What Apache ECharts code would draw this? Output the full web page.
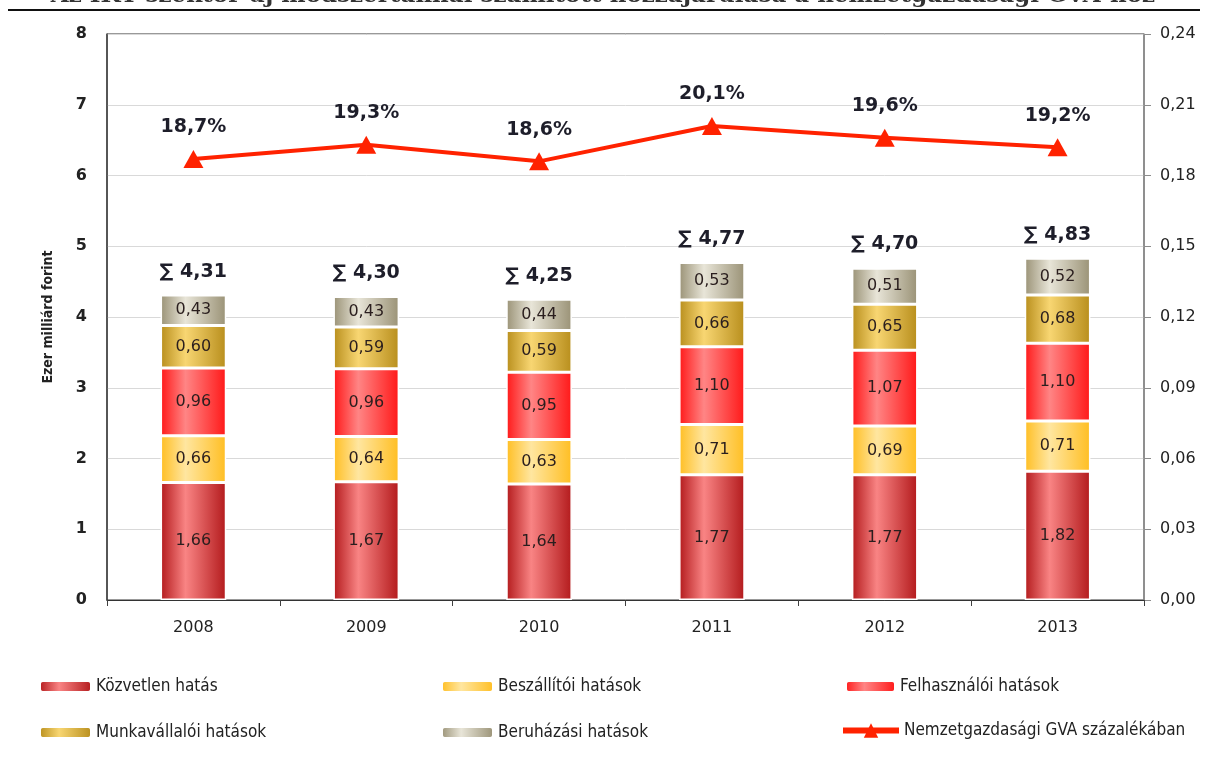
<!DOCTYPE html>
<html><head><meta charset="utf-8">
<script src="https://cdn.jsdelivr.net/npm/echarts@6/dist/echarts.min.js"></script>
<style>html,body{margin:0;padding:0;background:#fff}#c{width:1206px;height:758px}</style>
</head><body><div id="c"></div>
<script>
var years = ['2008','2009','2010','2011','2012','2013'];
var kozvetlen = [1.66,1.67,1.64,1.77,1.77,1.82];
var beszallitoi = [0.66,0.64,0.63,0.71,0.69,0.71];
var felhasznaloi = [0.96,0.96,0.95,1.10,1.07,1.10];
var munkavallaloi = [0.60,0.59,0.59,0.66,0.65,0.68];
var beruhazasi = [0.43,0.43,0.44,0.53,0.51,0.52];
var totals = [4.31,4.30,4.25,4.77,4.70,4.83];
var gvaShare = [0.187,0.193,0.186,0.201,0.196,0.192];
var leftTicks = {min:0,max:8,interval:1};
var rightTicks = {min:0,max:0.24,interval:0.03};

var NUM = '"DejaVu Sans", sans-serif';
var TXT = '"DejaVu Sans Condensed", "DejaVu Sans", sans-serif';
function grad(edge, light){
  return new echarts.graphic.LinearGradient(0,0,1,0,[
    {offset:0,color:edge},{offset:0.38,color:light},{offset:1,color:edge}]);
}
function fmt2(v){return v.toFixed(2).replace('.',',');}
var barLabel = {show:true,position:'inside',fontFamily:NUM,fontSize:16,color:'#2a1e1e',
  formatter:function(p){return fmt2(p.value);}};
function barSeries(name,data,edge,light){
  return {name:name,type:'bar',stack:'t',data:data,barWidth:'38%',
    itemStyle:{color:grad(edge,light),borderColor:'#ffffff',borderWidth:1.5},
    label:barLabel,z:2};
}
var chart = echarts.init(document.getElementById('c'),null,{renderer:'canvas'});
var legendText = {fontFamily:TXT,fontSize:17,color:'#222'};
chart.setOption({
  animation:false,
  backgroundColor:'#fff',
  graphic:[
    {type:'text',left:'center',top:-15,style:{text:'Az IKT szektor új módszertannal számított hozzájárulása a nemzetgazdasági GVA-hoz',
      font:'bold 23px "DejaVu Serif", serif',fill:'#333'}},
    {type:'rect',shape:{x:8,y:9,width:1192,height:2},style:{fill:'#111'}}
  ],
  grid:{left:107,right:62,top:34,bottom:158,show:true,borderColor:'#333',borderWidth:1},
  legend:[
    {orient:'vertical',left:34,top:673,itemGap:29,itemWidth:51,itemHeight:11,textStyle:legendText,
      data:['Közvetlen hatás','Munkavállalói hatások']},
    {orient:'vertical',left:436,top:673,itemGap:29,itemWidth:51,itemHeight:11,textStyle:legendText,
      data:['Beszállítói hatások','Beruházási hatások']},
    {orient:'vertical',left:840,top:673,itemWidth:49,itemHeight:11,textStyle:legendText,
      data:['Felhasználói hatások']},
    {orient:'vertical',left:835,top:717,itemWidth:56,itemHeight:18,itemGap:5,textStyle:legendText,
      data:[{name:'Nemzetgazdasági GVA százalékában',lineStyle:{width:6}}]}
  ],
  xAxis:{type:'category',data:years,
    axisLine:{lineStyle:{color:'#333',width:1}},
    axisTick:{show:true,alignWithLabel:false,length:6,lineStyle:{color:'#404040'}},
    axisLabel:{fontFamily:NUM,fontSize:16,color:'#222',margin:20}},
  yAxis:[
    {type:'value',min:leftTicks.min,max:leftTicks.max,interval:leftTicks.interval,
      name:'Ezer milliárd forint',nameLocation:'middle',nameGap:52,
      nameTextStyle:{fontFamily:TXT,fontSize:14,fontWeight:'bold',color:'#222'},
      axisLine:{show:true,lineStyle:{color:'#404040',width:1.5}},
      axisTick:{show:false},
      splitLine:{show:true,lineStyle:{color:'#d9d9d9',width:1}},
      axisLabel:{fontFamily:NUM,fontSize:16,fontWeight:'bold',color:'#222',margin:20}},
    {type:'value',min:rightTicks.min,max:rightTicks.max,interval:rightTicks.interval,position:'right',
      axisLine:{show:true,lineStyle:{color:'#8c8c8c',width:1.5}},
      axisTick:{show:true,length:7,lineStyle:{color:'#8c8c8c'}},
      splitLine:{show:false},
      axisLabel:{fontFamily:NUM,fontSize:16,color:'#222',margin:16,formatter:function(v){return fmt2(v);}}}
  ],
  series:[
    barSeries('Közvetlen hatás',kozvetlen,'#b31a1c','#f98484'),
    barSeries('Beszállítói hatások',beszallitoi,'#ffbe22','#ffe6a0'),
    barSeries('Felhasználói hatások',felhasznaloi,'#ff1818','#ff8585'),
    barSeries('Munkavállalói hatások',munkavallaloi,'#b88e1c','#f8d672'),
    barSeries('Beruházási hatások',beruhazasi,'#9a9276','#e8e5d8'),
    {name:'Összesen',type:'scatter',data:totals,symbolSize:1,itemStyle:{color:'rgba(0,0,0,0)',opacity:1},
      silent:true,z:3,
      label:{show:true,position:'top',distance:13,fontFamily:NUM,fontSize:19,fontWeight:'bold',color:'#1e1e2a',opacity:1,
        formatter:function(p){return '\u2211 '+fmt2(p.value);}}},
    {name:'Nemzetgazdasági GVA százalékában',type:'line',yAxisIndex:1,data:gvaShare,
      symbol:'triangle',symbolSize:[20,18],
      lineStyle:{color:'#ff2200',width:4},itemStyle:{color:'#ff2200'},z:4,
      label:{show:true,position:'top',distance:13,fontFamily:NUM,fontSize:19,fontWeight:'bold',color:'#1e1e2a',
        formatter:function(p){return (p.value*100).toFixed(1).replace('.',',')+'%';}}}
  ]
});
</script></body></html>
